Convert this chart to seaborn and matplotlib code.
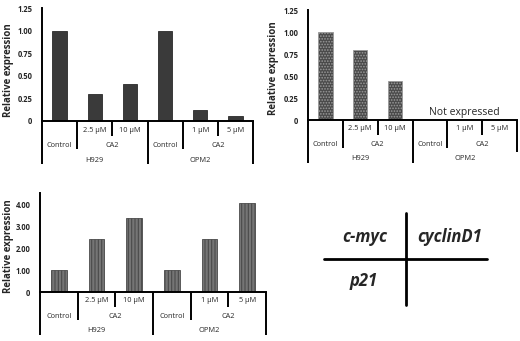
import numpy as np
import pandas as pd
import matplotlib
matplotlib.use("Agg")
import matplotlib.pyplot as plt
import seaborn as sns

# ---- data ----
keys = ["H929 Control", "H929 2.5", "H929 10", "OPM2 Control", "OPM2 1", "OPM2 5"]
dose_labels = ["", "2.5 \u00b5M", "10 \u00b5M", "", "1 \u00b5M", "5 \u00b5M"]
treatment_labels = ["Control", "CA2", "Control", "CA2"]
treatment_pos = [0, 1.5, 3, 4.5]
cell_lines = ["H929", "OPM2"]
cell_pos = [1, 4]

cmyc = [1.00, 0.30, 0.41, 1.00, 0.12, 0.055]
cyclind1 = [1.00, 0.80, 0.44, np.nan, np.nan, np.nan]
p21 = [1.00, 2.43, 3.35, 1.00, 2.40, 4.05]

W, H = 520, 341

sns.set_theme(style="white")
plt.rcParams["font.family"] = ["Open Sans", "DejaVu Sans"]

fig = plt.figure(figsize=(W / 100, H / 100), dpi=100)


def px_axes(left, top, right, bottom):
    return fig.add_axes([left / W, 1 - bottom / H, (right - left) / W, (bottom - top) / H])


def draw_panel(ax, values, ymax, ticks, ticklabels, color, edge, hatch, h_px, label_xy,
               right_sep=43):
    df = pd.DataFrame({"key": keys, "value": values})
    sns.barplot(data=df, x="key", y="value", order=keys, ax=ax, color=color,
                saturation=1, width=0.41, errorbar=None, edgecolor=edge,
                linewidth=0.6, hatch=hatch)
    ax.set_xlim(-0.5, len(keys) - 0.5)
    ax.set_ylim(0, ymax)
    ax.set_yticks(ticks)
    ax.set_yticklabels(ticklabels, fontsize=5.5, fontweight="bold")
    ax.tick_params(axis="y", length=0, pad=7)
    ax.set_xticks([])
    ax.set_xlabel("")
    ax.set_ylabel("Relative expression", fontsize=7, fontweight="bold")
    ax.yaxis.set_label_coords(*label_xy)
    for s in ["top", "right"]:
        ax.spines[s].set_visible(False)
    for s in ["left", "bottom"]:
        ax.spines[s].set_color("black")
        ax.spines[s].set_linewidth(1.4)

    def fy(off):
        return -off / h_px

    tr = ax.get_xaxis_transform()
    for i, lab in enumerate(dose_labels):
        if lab:
            ax.text(i, fy(9), lab, transform=tr, ha="center", va="center", fontsize=5.3)
    for x, lab in zip(treatment_pos, treatment_labels):
        ax.text(x, fy(24.5), lab, transform=tr, ha="center", va="center", fontsize=5.3)
    for x, lab in zip(cell_pos, cell_lines):
        ax.text(x, fy(39), lab, transform=tr, ha="center", va="center", fontsize=5.3)
    seps = {-0.5: 43, 0.5: 28, 1.5: 15, 2.5: 43, 3.5: 28, 4.5: 15, 5.5: right_sep}
    for x, off in seps.items():
        ax.plot([x, x], [0, fy(off)], transform=tr, color="black", lw=1.4,
                clip_on=False, solid_capstyle="butt")


ax1 = px_axes(42, 8, 253, 121)
draw_panel(ax1, cmyc, 1.25, [0, 0.25, 0.5, 0.75, 1.0, 1.25],
           ["0", "0.25", "0.50", "0.75", "1.00", "1.25"],
           "#3a3a3a", "#2a2a2a", None, 113, (-28 / 211, 0.45))

plt.rcParams["hatch.linewidth"] = 0.8
ax2 = px_axes(308, 10, 517, 120)
draw_panel(ax2, cyclind1, 1.25, [0, 0.25, 0.5, 0.75, 1.0, 1.25],
           ["0", "0.25", "0.50", "0.75", "1.00", "1.25"],
           "#4a4a4a", "#9a9a9a", "......", 110, (-29 / 209, 0.47), right_sep=32)
ax2.text(4, 7 / 110, "Not expressed", transform=ax2.get_xaxis_transform(),
         ha="center", va="center", fontsize=7.5)

ax3 = px_axes(40, 193, 266, 292)
draw_panel(ax3, p21, 4.5, [0, 1, 2, 3, 4], ["0", "1.00", "2.00", "3.00", "4.00"],
           "#757575", "#4a4a4a", "|||||", 99, (-26 / 226, 0.46))

# gene key panel
ax4 = fig.add_axes([0, 0, 1, 1], facecolor="none")
ax4.set_xlim(0, W)
ax4.set_ylim(H, 0)
ax4.axis("off")
ax4.plot([324, 487], [259, 259], color="black", lw=2)
ax4.plot([406, 406], [213, 305], color="black", lw=2)
ax4.text(387, 237, "c-myc", ha="right", va="center", fontsize=12,
         fontweight="bold", style="italic")
ax4.text(417, 237, "cyclinD1", ha="left", va="center", fontsize=12,
         fontweight="bold", style="italic")
ax4.text(378, 281, "p21", ha="right", va="center", fontsize=12,
         fontweight="bold", style="italic")

fig.savefig("out.png", dpi=100)
